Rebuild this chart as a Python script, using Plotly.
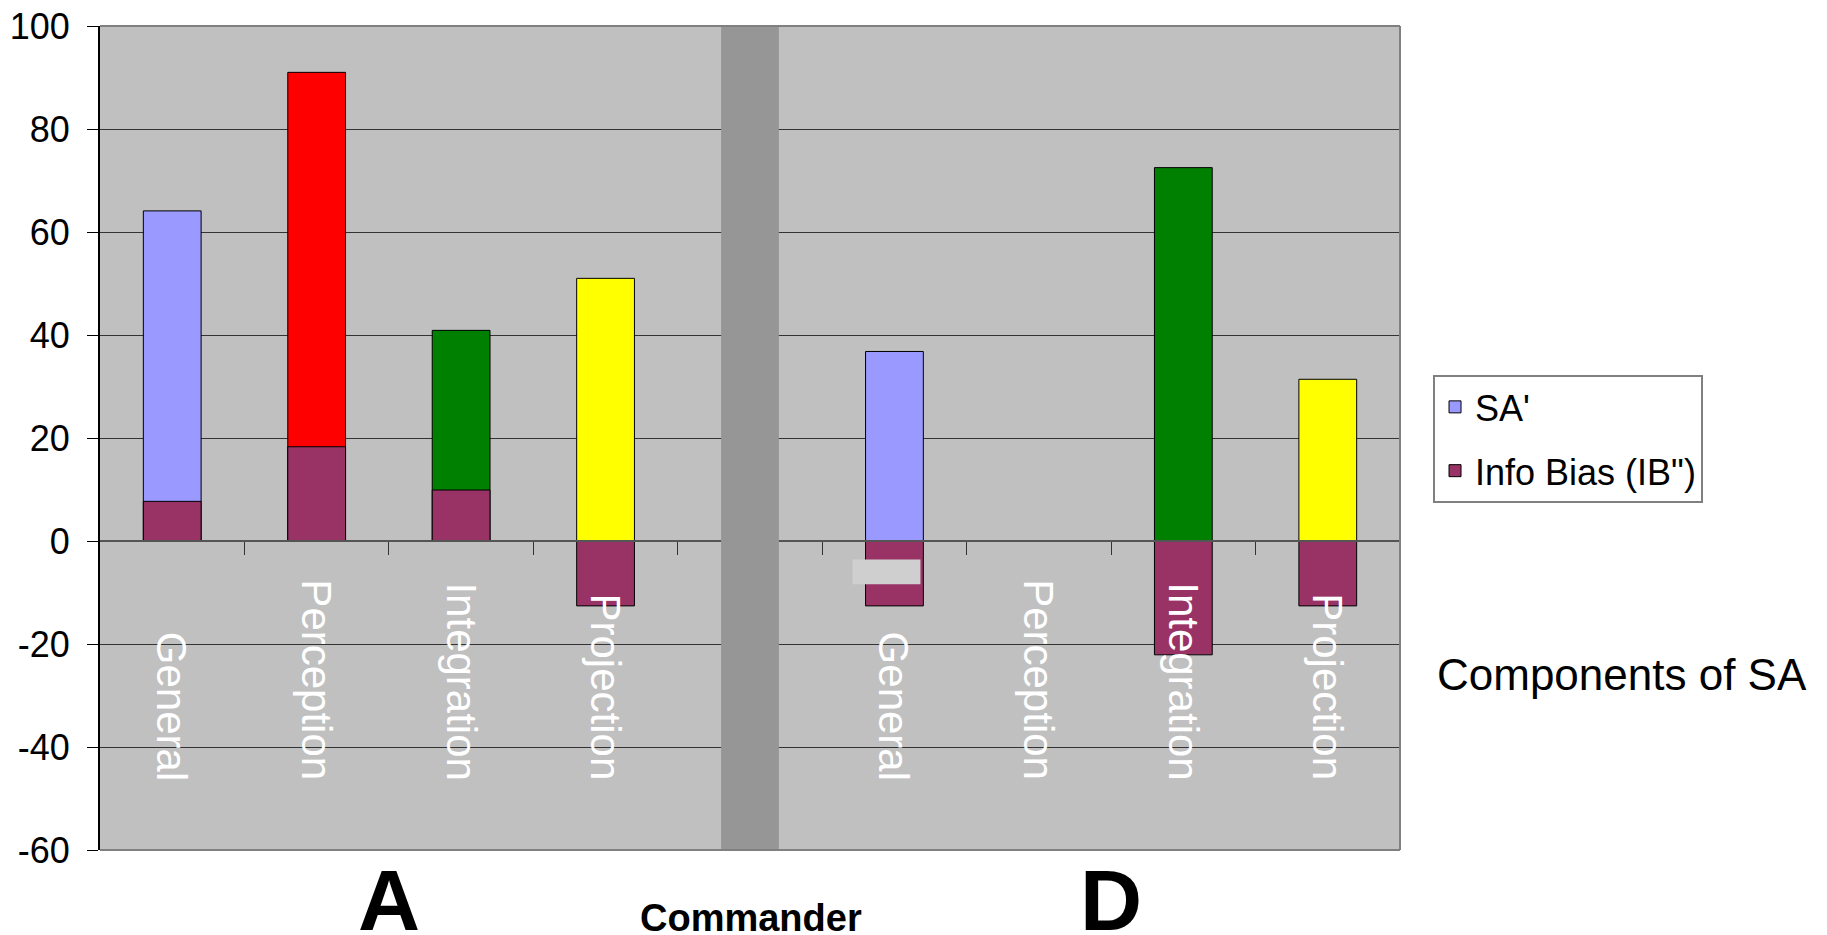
import plotly.graph_objects as go

# ---- data ----
groups = ["A", "D"]
components = ["General", "Perception", "Integration", "Projection"]
sa_A = [64.1, 91.0, 40.9, 51.0]
ib_A = [7.7, 18.3, 9.9, -12.6]
sa_D = [36.8, None, 72.5, 31.4]
ib_D = [-12.6, None, -22.1, -12.6]
component_colors = ["#9999FF", "#FF0000", "#008000", "#FFFF00"]
ib_color = "#993366"
y_ticks = [-60, -40, -20, 0, 20, 40, 60, 80, 100]
y_tick_text = ["-60", "-40", "-20", "0", "20", "40", "60", "80", "100"]

FONT = "Liberation Sans, Arial, sans-serif"

# positions: group A at 0..3, separator at 4, group D at 5..8
n = len(components)
x_A = list(range(n))
x_D = [n + 1 + i for i in range(n)]
sep_x = n
x_all = x_A + x_D
labels_all = components + components
sa_all = sa_A + sa_D
ib_all = ib_A + ib_D
colors_all = component_colors + component_colors

fig = go.Figure()
fig.add_trace(go.Bar(
    x=x_all, y=sa_all, name="SA'", width=0.4,
    marker=dict(color=colors_all, line=dict(color="#000000", width=1)),
    legendgroup="sa",
))
fig.add_trace(go.Bar(
    x=x_all, y=ib_all, name="Info Bias (IB\")", width=0.4,
    marker=dict(color=ib_color, line=dict(color="#000000", width=1)),
    legendgroup="ib",
))

# dark separator band between the two groups
fig.add_shape(type="rect", xref="x", yref="y", x0=sep_x - 0.2, x1=sep_x + 0.2,
              y0=-61.2, y1=100, fillcolor="#969696", line=dict(width=0), layer="above")
# light patch near D/General
fig.add_shape(type="rect", xref="x", yref="y", x0=4.71, x1=5.18, y0=-8.4, y1=-3.6,
              fillcolor="#CFCFCF", line=dict(width=0), layer="above")
# plot-area border (top, right, bottom)
for (x0, y0, x1, y1) in [(0, 1, 1, 1), (1, 0, 1, 1), (0, 0, 1, 0)]:
    fig.add_shape(type="line", xref="paper", yref="paper", x0=x0, y0=y0, x1=x1, y1=y1,
                  line=dict(color="#808080", width=2), layer="above")

# rotated category labels inside the plot
for xi, lab in zip(x_all, labels_all):
    fig.add_annotation(x=xi, y=-46.9, xref="x", yref="y", text=lab, textangle=90,
                       showarrow=False, xanchor="center", yanchor="bottom",
                       font=dict(family=FONT, size=42, color="white"))

# group letters
for gname, xs in zip(groups, [x_A, x_D]):
    fig.add_annotation(x=(xs[1] + xs[2]) / 2, y=-0.061, xref="x", yref="paper",
                       text="<b>%s</b>" % gname, showarrow=False,
                       xanchor="center", yanchor="middle",
                       font=dict(family=FONT, size=86, color="black"))

fig.add_annotation(x=0.5008, y=-0.0825, xref="paper", yref="paper", text="<b>Commander</b>",
                   showarrow=False, xanchor="center", yanchor="middle",
                   font=dict(family=FONT, size=38, color="black"))
fig.add_annotation(x=1.027, y=0.2124, xref="paper", yref="paper", text="Components of SA",
                   showarrow=False, xanchor="left", yanchor="middle",
                   font=dict(family=FONT, size=44, color="black"))

y_min, y_max = -60, 100
fig.update_layout(
    width=1819, height=927,
    margin=dict(l=92, r=427, t=18, b=85, autoexpand=False),
    paper_bgcolor="white", plot_bgcolor="#C0C0C0",
    barmode="overlay",
    font=dict(family=FONT, color="black"),
    legend=dict(x=1.0254, y=0.5765, xanchor="left", yanchor="top",
                bgcolor="white", bordercolor="#808080", borderwidth=2,
                font=dict(family=FONT, size=36), tracegroupgap=14,
                traceorder="grouped"),
    xaxis=dict(range=[-0.5, len(x_all) + 0.5], tickvals=[i + 0.5 for i in range(len(x_all) + 1)],
               showticklabels=False, ticks="outside", ticklen=13, tickcolor="#333333",
               showline=True, linecolor="#555555", linewidth=2, showgrid=False,
               zeroline=False, anchor="free", position=(0 - y_min) / (y_max - y_min),
               automargin=False),
    yaxis=dict(range=[y_min, y_max], tickvals=y_ticks, ticktext=y_tick_text,
               ticks="outside", ticklen=11, ticklabelstandoff=10,
               ticklabeloverflow="allow",
               tickcolor="black", showline=True, linecolor="black", linewidth=2,
               showgrid=True, gridcolor="#333333", gridwidth=1, zeroline=False,
               automargin=False,
               tickfont=dict(family=FONT, size=36, color="black")),
)

fig.write_html("out.html")
